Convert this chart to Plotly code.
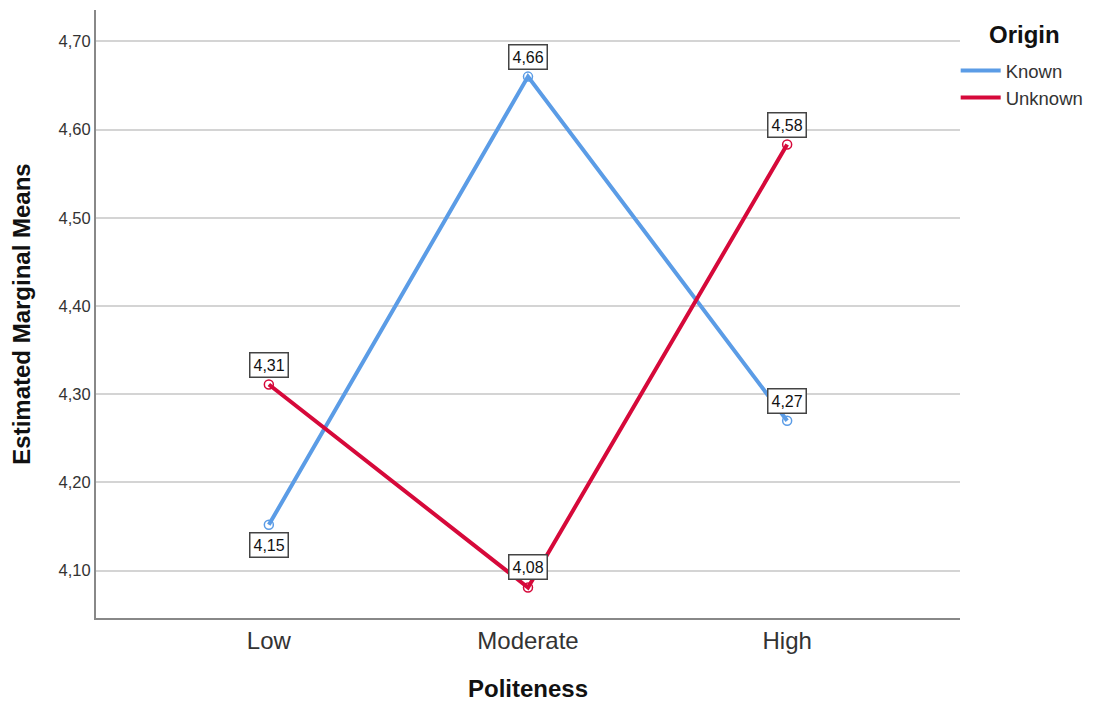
import plotly.graph_objects as go

categories = ["Low", "Moderate", "High"]
known = [4.152, 4.660, 4.270]
unknown = [4.311, 4.081, 4.583]
series_names = ["Known", "Unknown"]
colors = ["#5b9ce6", "#d6093a"]
label_shift = [[-20, 20, 20], [20, 20, 20]]

fig = go.Figure()
for name, vals, col in zip(series_names, [known, unknown], colors):
    fig.add_trace(go.Scatter(
        x=categories, y=vals, name=name, mode="lines+markers", showlegend=False,
        line=dict(color=col, width=4),
        marker=dict(symbol="circle-open", size=9, color=col, line=dict(width=1.5)),
    ))
for name, col in zip(series_names, colors):
    fig.add_trace(go.Scatter(
        x=[None], y=[None], name=name, mode="lines",
        line=dict(color=col, width=4),
    ))

for vals, shifts in zip([known, unknown], label_shift):
    for c, v, s in zip(categories, vals, shifts):
        fig.add_annotation(
            x=c, y=v, xref="x", yref="y", yshift=s, showarrow=False,
            text=f"{v:.2f}".replace(".", ","),
            font=dict(family="Liberation Sans, Arial", size=16, color="#111"),
            bgcolor="white", bordercolor="#444", borderwidth=1.5, borderpad=3,
        )

# legend title
fig.add_annotation(
    x=1.075, y=0.959, xref="paper", yref="paper", showarrow=False,
    xanchor="center", yanchor="middle",
    text="<b>Origin</b>", font=dict(family="Liberation Sans, Arial", size=24, color="#111"),
)

fig.update_layout(
    width=1087, height=694,
    margin=dict(l=88, r=135, t=2, b=84),
    paper_bgcolor="white", plot_bgcolor="white",
    separators=",.",
    font=dict(family="Liberation Sans, Arial", color="#333"),
    showlegend=True,
    legend=dict(
        x=0.995, xanchor="left", y=0.931, yanchor="top",
        font=dict(size=18.5, color="#333"),
        itemwidth=40, tracegroupgap=0,
    ),
    xaxis=dict(
        type="category", range=[-0.667, 2.667],
        showgrid=False, showline=True, linecolor="#888", linewidth=2,
        ticks="", tickfont=dict(size=24, color="#333"),
        title=dict(text="<b>Politeness</b>", font=dict(size=24, color="#111"), standoff=30),
    ),
    yaxis=dict(
        range=[4.0464, 4.7355], tickmode="array",
        tickvals=[4.1, 4.2, 4.3, 4.4, 4.5, 4.6, 4.7],
        tickformat=".2f",
        showgrid=True, gridcolor="#d4d4d4", gridwidth=1.5,
        showline=True, linecolor="#888", linewidth=2,
        ticks="", ticklen=0, tickfont=dict(size=16.5, color="#333"),
        zeroline=False,
        title=dict(text="<b>Estimated Marginal Means</b>", font=dict(size=24, color="#111"), standoff=22),
    ),
)

fig.write_html("out.html")
